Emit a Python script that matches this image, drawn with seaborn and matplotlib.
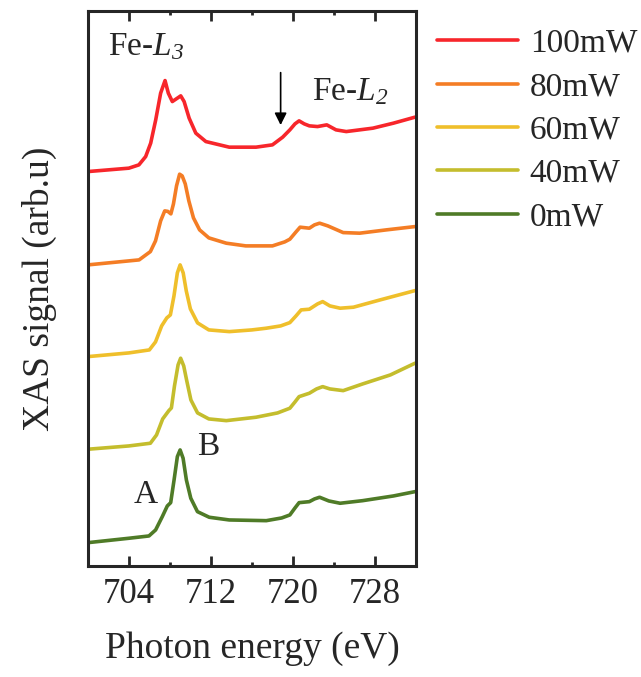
import pandas as pd
import matplotlib
matplotlib.use("Agg")
import matplotlib.pyplot as plt
from matplotlib.ticker import MultipleLocator
import seaborn as sns

# XAS Fe-L edge spectra, offset vertically
e_100 = [700.0, 702.0, 704.0, 704.98, 705.64, 706.13, 706.62, 707.1, 707.53, 707.85, 708.24,
         708.73, 709.06, 709.39, 709.88, 710.53, 711.51, 713.79, 716.4, 718.0, 719.0, 719.7,
         720.2, 720.6, 721.1, 721.6, 722.4, 723.3, 724.2, 725.2, 727.8, 729.8, 731.9]
s_100 = [3.943, 3.960, 3.977, 4.010, 4.093, 4.227, 4.460, 4.727, 4.853, 4.727, 4.643,
         4.677, 4.700, 4.643, 4.477, 4.327, 4.243, 4.187, 4.187, 4.210, 4.287, 4.360,
         4.420, 4.450, 4.420, 4.400, 4.393, 4.410, 4.360, 4.343, 4.377, 4.427, 4.487]

e_80 = [700.0, 703.0, 705.0, 706.1, 706.6, 707.1, 707.5, 707.8, 708.1, 708.35, 708.65, 708.95,
        709.2, 709.5, 709.85, 710.3, 710.9, 711.8, 713.5, 715.4, 718.0, 719.2, 719.7, 720.3,
        720.7, 721.6, 722.1, 722.6, 723.4, 724.9, 726.5, 729.1, 731.9]
s_80 = [3.010, 3.040, 3.060, 3.143, 3.250, 3.450, 3.550, 3.545, 3.520, 3.620, 3.800, 3.917,
        3.900, 3.820, 3.650, 3.480, 3.360, 3.280, 3.227, 3.200, 3.200, 3.240, 3.267, 3.340,
        3.387, 3.377, 3.410, 3.427, 3.400, 3.333, 3.327, 3.360, 3.393]

e_60 = [700.0, 704.0, 706.0, 706.6, 707.2, 707.7, 708.05, 708.4, 708.73, 709.0, 709.3, 709.6,
        710.0, 710.7, 711.8, 713.8, 716.0, 717.4, 718.8, 719.7, 720.3, 720.8, 721.6, 722.4,
        722.9, 723.6, 724.6, 725.9, 728.5, 731.9]
s_60 = [2.093, 2.130, 2.160, 2.240, 2.400, 2.480, 2.510, 2.700, 2.930, 3.010, 2.930, 2.750,
        2.570, 2.430, 2.360, 2.343, 2.360, 2.377, 2.400, 2.433, 2.500, 2.560, 2.567, 2.620,
        2.643, 2.600, 2.577, 2.587, 2.660, 2.753]

e_40 = [700.0, 704.0, 706.1, 706.7, 707.3, 707.9, 708.15, 708.45, 708.8, 709.05, 709.35, 709.65,
        710.05, 710.7, 711.8, 713.5, 716.4, 718.5, 719.7, 720.2, 720.6, 721.6, 722.3, 722.9,
        723.6, 724.9, 726.8, 729.5, 731.9]
s_40 = [1.167, 1.200, 1.227, 1.310, 1.470, 1.553, 1.580, 1.800, 2.010, 2.077, 2.000, 1.850,
        1.660, 1.530, 1.470, 1.453, 1.487, 1.530, 1.577, 1.640, 1.693, 1.727, 1.770, 1.793,
        1.770, 1.753, 1.820, 1.910, 2.027]

e_0 = [700.0, 704.0, 705.96, 706.61, 707.26, 707.75, 708.08, 708.41, 708.73, 709.0, 709.29,
       709.61, 710.04, 710.69, 711.84, 713.79, 717.4, 718.9, 719.7, 720.2, 720.6, 721.6, 722.1,
       722.6, 723.5, 724.6, 726.8, 729.8, 731.9]
s_0 = [0.233, 0.277, 0.300, 0.360, 0.493, 0.600, 0.633, 0.860, 1.093, 1.160, 1.077,
       0.860, 0.677, 0.543, 0.487, 0.460, 0.453, 0.480, 0.510, 0.580, 0.633, 0.643, 0.670,
       0.687, 0.650, 0.627, 0.653, 0.700, 0.743]

powers = ["100mW", "80mW", "60mW", "40mW", "0mW"]
colors = ["#f7262b", "#f47d25", "#efbf2b", "#c4bd2d", "#4f7b27"]

frames = []
for p, e, s in zip(powers, [e_100, e_80, e_60, e_40, e_0], [s_100, s_80, s_60, s_40, s_0]):
    frames.append(pd.DataFrame({"energy": e, "signal": s, "power": p}))
df = pd.concat(frames, ignore_index=True)

sns.set_style("ticks")
plt.rcParams["font.family"] = ["Liberation Serif", "DejaVu Serif"]
plt.rcParams["mathtext.fontset"] = "custom"
# both letters and digits of the subscripted labels are italic in the original
plt.rcParams["mathtext.rm"] = "Liberation Serif:italic"
plt.rcParams["mathtext.it"] = "Liberation Serif:italic"

fig = plt.figure(figsize=(6.41, 6.77), dpi=100)
ax = fig.add_axes([0.137, 0.164, 0.512, 0.820])

sns.lineplot(data=df, x="energy", y="signal", hue="power", hue_order=powers,
             palette=colors, sort=False, lw=2.6, ax=ax,
             solid_joinstyle="round", solid_capstyle="round")

ax.set_xlim(700, 732)
ax.set_ylim(0, 5.55)
ax.set_yticks([])
ax.xaxis.set_major_locator(MultipleLocator(8))
ax.xaxis.set_minor_locator(MultipleLocator(4))
ax.tick_params(axis="x", which="both", direction="in", top=True, width=2, labelsize=25, pad=9)
ax.tick_params(axis="x", which="major", length=7)
ax.tick_params(axis="x", which="minor", length=3)
for sp in ax.spines.values():
    sp.set_linewidth(2.2)

ax.set_xlabel("Photon energy (eV)", fontsize=27, labelpad=14)
ax.set_ylabel("XAS signal (arb.u)", fontsize=27, labelpad=22)

ax.text(702.0, 5.11, r"Fe-$L_3$", fontsize=24, va="baseline")
ax.text(721.9, 4.66, r"Fe-$L_2$", fontsize=24, va="baseline")
ax.text(704.5, 0.633, "A", fontsize=24, va="baseline")
ax.text(710.7, 1.11, "B", fontsize=24, va="baseline")
ax.annotate("", xy=(718.8, 4.38), xytext=(718.8, 4.96),
            arrowprops=dict(arrowstyle="-|>", color="black", lw=1.2, mutation_scale=18))

handles, labels = ax.get_legend_handles_labels()
ax.get_legend().remove()
fig.legend(handles, labels, loc="upper left", bbox_to_anchor=(0.681, 0.958),
           frameon=False, fontsize=24, handlelength=2.45, handletextpad=0.35,
           labelspacing=0.385, borderpad=0, borderaxespad=0)

fig.savefig("out.png", dpi=100)
